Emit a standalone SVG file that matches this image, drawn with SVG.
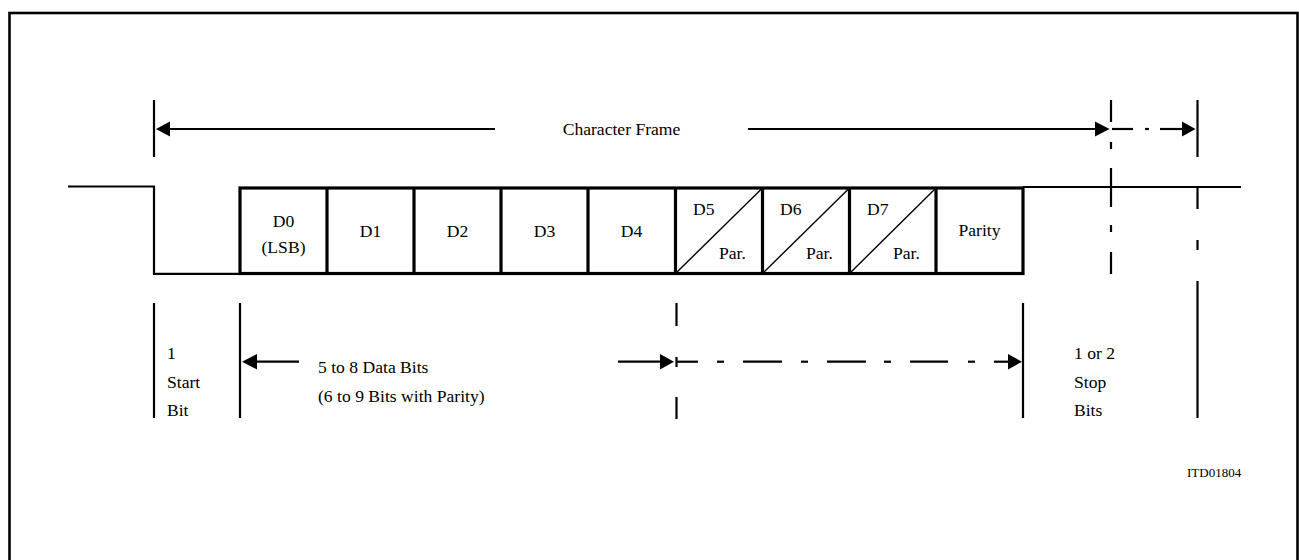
<svg xmlns="http://www.w3.org/2000/svg" width="1299" height="560" viewBox="0 0 1299 560">
<style>
.ln{stroke:#000;stroke-width:2.2;fill:none}
.bx{stroke:#000;stroke-width:3.2;fill:none}
.dg{stroke:#000;stroke-width:1.4;fill:none}
.ah{fill:#000;stroke:none}
.t{font-family:'Liberation Serif','Times New Roman',Tinos,'DejaVu Serif',serif;font-size:17.6px;fill:#000}
.c{text-anchor:middle}
.s{font-size:13px}
</style>
<rect width="1299" height="560" fill="#fff"/>
<rect x="9.5" y="13" width="1288" height="600" fill="none" stroke="#000" stroke-width="2.6"/>

<g id="character-frame">
  <line class="ln" x1="154" y1="100" x2="154" y2="157"/>
  <line class="ln" x1="170" y1="129" x2="495" y2="129"/>
  <polygon class="ah" points="156,129 170,121.5 170,136.5"/>
  <text class="t c" x="621.5" y="135">Character Frame</text>
  <line class="ln" x1="748" y1="129" x2="1096" y2="129"/>
  <polygon class="ah" points="1109.5,129 1095,121.5 1095,136.5"/>
  <line class="ln" x1="1112" y1="129" x2="1133" y2="129"/>
  <line class="ln" x1="1145" y1="129" x2="1149" y2="129"/>
  <line class="ln" x1="1160" y1="129" x2="1183" y2="129"/>
  <polygon class="ah" points="1195.5,129 1182,121.5 1182,136.5"/>
  <line class="ln" x1="1197.5" y1="100" x2="1197.5" y2="157"/>
</g>

<g id="waveform">
  <polyline class="ln" points="68,186.5 154,186.5 154,273.8 240,273.8"/>
  <line class="ln" x1="1023" y1="187" x2="1241" y2="187"/>
</g>

<g id="bit-boxes">
  <rect class="bx" x="240" y="188" width="783" height="85.5"/>
  <line class="bx" x1="327" y1="188" x2="327" y2="273.5"/>
  <line class="bx" x1="414" y1="188" x2="414" y2="273.5"/>
  <line class="bx" x1="501" y1="188" x2="501" y2="273.5"/>
  <line class="bx" x1="588" y1="188" x2="588" y2="273.5"/>
  <line class="bx" x1="675.5" y1="188" x2="675.5" y2="273.5"/>
  <line class="bx" x1="762.5" y1="188" x2="762.5" y2="273.5"/>
  <line class="bx" x1="849.5" y1="188" x2="849.5" y2="273.5"/>
  <line class="bx" x1="936" y1="188" x2="936" y2="273.5"/>
  <line class="dg" x1="675.5" y1="273.5" x2="762.5" y2="188"/>
  <line class="dg" x1="762.5" y1="273.5" x2="849.5" y2="188"/>
  <line class="dg" x1="849.5" y1="273.5" x2="936" y2="188"/>
</g>

<g class="t">
<g id="bit-d0"><text class="c" x="283.5" y="227">D0</text><text class="c" x="283.5" y="253">(LSB)</text></g>
<g id="bit-d1"><text class="c" x="370.5" y="237">D1</text></g>
<g id="bit-d2"><text class="c" x="457.5" y="237">D2</text></g>
<g id="bit-d3"><text class="c" x="544.5" y="237">D3</text></g>
<g id="bit-d4"><text class="c" x="631.5" y="237">D4</text></g>
<g id="bit-d5"><text x="693" y="215">D5</text><text x="719" y="259">Par.</text></g>
<g id="bit-d6"><text x="780" y="215">D6</text><text x="806" y="259">Par.</text></g>
<g id="bit-d7"><text x="867" y="215">D7</text><text x="893" y="259">Par.</text></g>
<g id="bit-parity"><text class="c" x="979.5" y="236">Parity</text></g>
</g>

<g id="connectors">
  <line class="ln" x1="1111" y1="100" x2="1111" y2="122"/>
  <line class="ln" x1="1111" y1="142" x2="1111" y2="149"/>
  <line class="ln" x1="1111" y1="168" x2="1111" y2="207"/>
  <line class="ln" x1="1111" y1="225" x2="1111" y2="232"/>
  <line class="ln" x1="1111" y1="252" x2="1111" y2="274"/>
  <line class="ln" x1="1197.5" y1="187" x2="1197.5" y2="209"/>
  <line class="ln" x1="1197.5" y1="240" x2="1197.5" y2="250"/>
  <line class="ln" x1="1197.5" y1="281" x2="1197.5" y2="418"/>
  <line class="ln" x1="154" y1="303" x2="154" y2="418"/>
  <line class="ln" x1="240" y1="303" x2="240" y2="418"/>
  <line class="ln" x1="1023" y1="303" x2="1023" y2="418"/>
  <line class="ln" x1="676.5" y1="303" x2="676.5" y2="326"/>
  <line class="ln" x1="676.5" y1="357" x2="676.5" y2="367"/>
  <line class="ln" x1="676.5" y1="397" x2="676.5" y2="419"/>
  <polygon class="ah" points="242,361.7 257,354 257,369.4"/>
  <line class="ln" x1="256" y1="361.7" x2="299" y2="361.7"/>
  <line class="ln" x1="618" y1="361.7" x2="661" y2="361.7"/>
  <polygon class="ah" points="674,361.7 660,354 660,369.4"/>
  <line class="ln" x1="677" y1="361.7" x2="698" y2="361.7"/>
  <line class="ln" x1="717" y1="361.7" x2="724" y2="361.7"/>
  <line class="ln" x1="743" y1="361.7" x2="782" y2="361.7"/>
  <line class="ln" x1="801" y1="361.7" x2="808" y2="361.7"/>
  <line class="ln" x1="827" y1="361.7" x2="866" y2="361.7"/>
  <line class="ln" x1="884" y1="361.7" x2="891" y2="361.7"/>
  <line class="ln" x1="910" y1="361.7" x2="948" y2="361.7"/>
  <line class="ln" x1="968" y1="361.7" x2="975" y2="361.7"/>
  <line class="ln" x1="994" y1="361.7" x2="1009" y2="361.7"/>
  <polygon class="ah" points="1022,361.7 1008,354 1008,369.4"/>
</g>

<g class="t">
<g id="label-start">
  <text x="167" y="359">1</text>
  <text x="167" y="388">Start</text>
  <text x="167" y="416">Bit</text>
</g>
<g id="label-data">
  <text x="318" y="373">5 to 8 Data Bits</text>
  <text x="318" y="402">(6 to 9 Bits with Parity)</text>
</g>
<g id="label-stop">
  <text x="1074" y="359">1 or 2</text>
  <text x="1074" y="388">Stop</text>
  <text x="1074" y="416">Bits</text>
</g>
<g id="label-id"><text class="s" x="1187" y="477">ITD01804</text></g>
</g>
</svg>
